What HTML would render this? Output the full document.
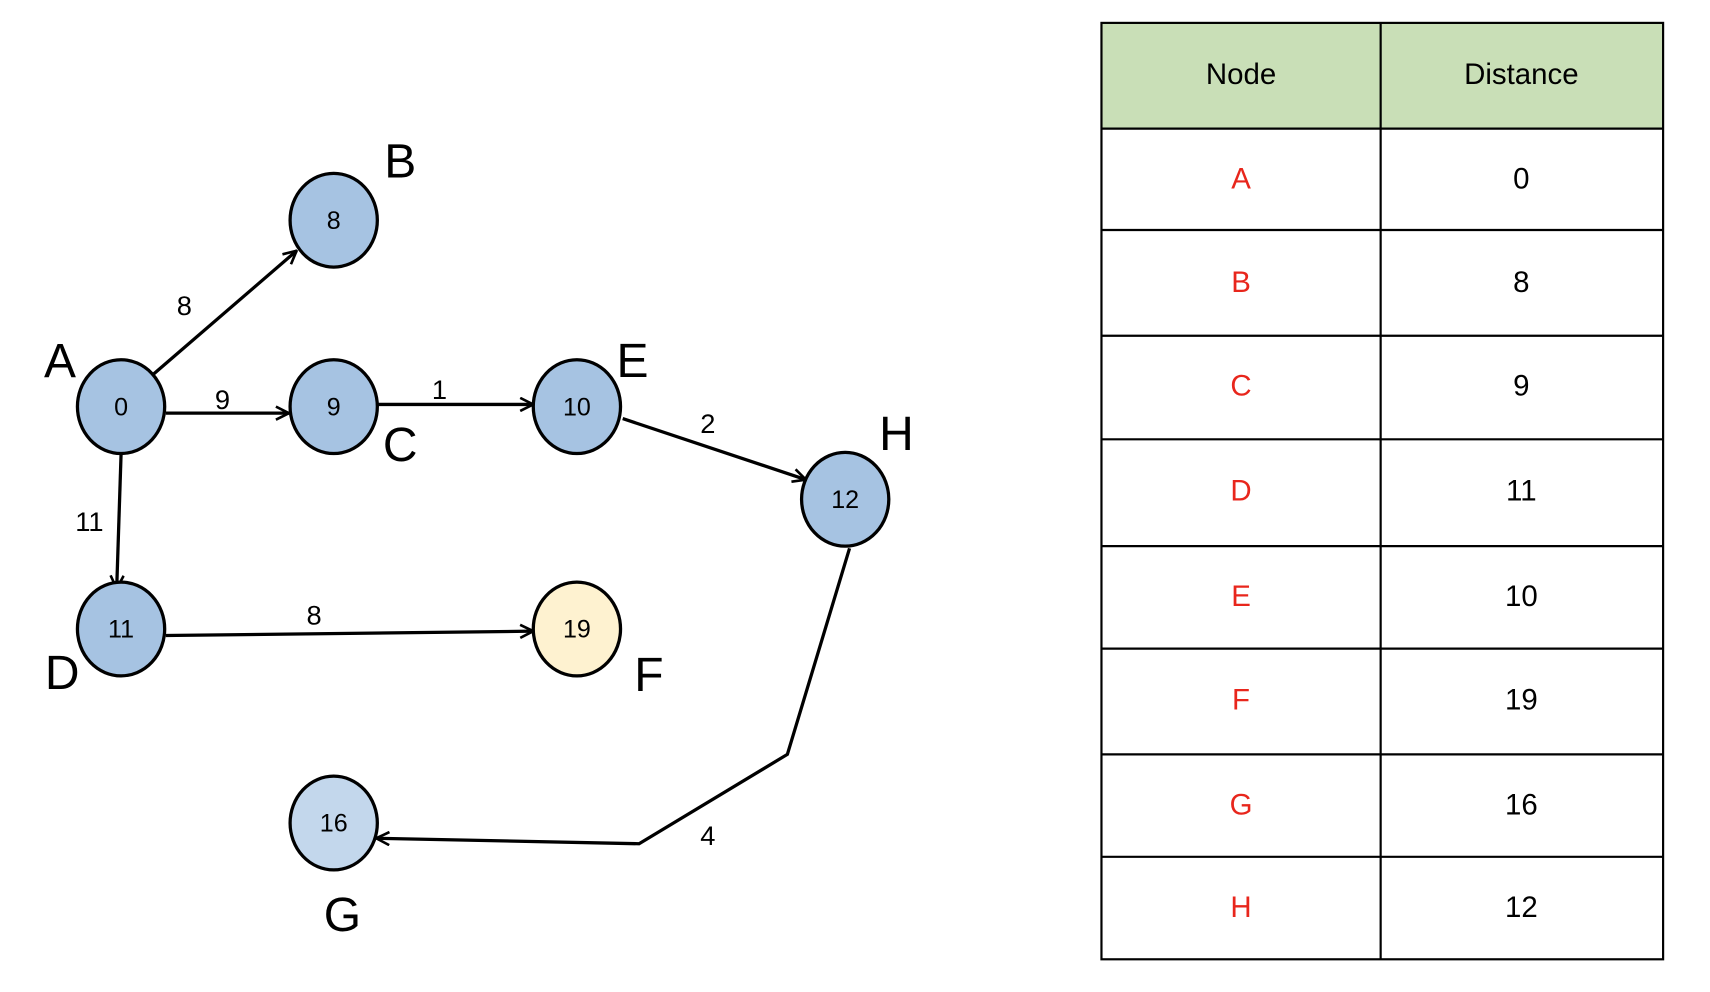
<!DOCTYPE html>
<html><head><meta charset="utf-8"><style>
html,body{margin:0;padding:0;background:#fff;width:1710px;height:992px;overflow:hidden}
svg{display:block}
text{font-family:"Liberation Sans",sans-serif}
</style></head><body>
<svg width="1710" height="992" viewBox="0 0 1568 910" preserveAspectRatio="none">
<defs><marker id="ar" viewBox="0 0 14 14" refX="13" refY="7" markerWidth="14" markerHeight="14" markerUnits="userSpaceOnUse" orient="auto"><path d="M1,1 L13,7 L1,13" fill="none" stroke="#000" stroke-width="2.4"/></marker></defs>
<g stroke="#000" stroke-width="3" fill="none">
<line x1="141" y1="343" x2="272" y2="230" marker-end="url(#ar)"/>
<line x1="152" y1="379" x2="265" y2="379" marker-end="url(#ar)"/>
<line x1="345" y1="371" x2="489" y2="371" marker-end="url(#ar)"/>
<line x1="571" y1="384" x2="739" y2="440" marker-end="url(#ar)"/>
<line x1="111" y1="417" x2="107" y2="540" marker-end="url(#ar)"/>
<line x1="152" y1="583" x2="489" y2="579" marker-end="url(#ar)"/>
<polyline points="779,503 722,692 586,774 345,769" marker-end="url(#ar)"/>
</g>
<g stroke="#000" stroke-width="3">
<ellipse cx="111" cy="373" rx="40" ry="43" fill="#a6c3e2"/>
<ellipse cx="306" cy="202" rx="40" ry="43" fill="#a6c3e2"/>
<ellipse cx="306" cy="373" rx="40" ry="43" fill="#a6c3e2"/>
<ellipse cx="529" cy="373" rx="40" ry="43" fill="#a6c3e2"/>
<ellipse cx="775" cy="458" rx="40" ry="43" fill="#a6c3e2"/>
<ellipse cx="111" cy="577" rx="40" ry="43" fill="#a6c3e2"/>
<ellipse cx="529" cy="577" rx="40" ry="43" fill="#fef2d0"/>
<ellipse cx="306" cy="755" rx="40" ry="43" fill="#c3d7ec"/>
</g>
<g font-size="23" text-anchor="middle" fill="#000">
<text x="111" y="381">0</text><text x="306" y="210">8</text><text x="306" y="381">9</text>
<text x="529" y="381">10</text><text x="775" y="466">12</text><text x="111" y="585">11</text>
<text x="529" y="585">19</text><text x="306" y="763">16</text>
</g>
<g font-size="25" text-anchor="middle">
<text x="169" y="289">8</text><text x="204" y="375">9</text><text x="403" y="366">1</text>
<text x="649" y="397">2</text><text x="82" y="487">11</text><text x="288" y="573">8</text><text x="649" y="775">4</text>
</g>
<g font-size="44" text-anchor="middle">
<text x="55" y="346">A</text><text x="367" y="163">B</text><text x="367" y="423">C</text>
<text x="580" y="346">E</text><text x="822" y="413">H</text><text x="57" y="632">D</text>
<text x="595" y="634">F</text><text x="314" y="854">G</text>
</g>
<rect x="1010" y="21" width="515" height="97" fill="#c9dfb7"/>
<g stroke="#000" stroke-width="2" fill="none">
<rect x="1010" y="21" width="515" height="859"/>
<line x1="1266" y1="21" x2="1266" y2="880"/>
<line x1="1010" y1="118" x2="1525" y2="118"/><line x1="1010" y1="211" x2="1525" y2="211"/>
<line x1="1010" y1="308" x2="1525" y2="308"/><line x1="1010" y1="403" x2="1525" y2="403"/>
<line x1="1010" y1="501" x2="1525" y2="501"/><line x1="1010" y1="595" x2="1525" y2="595"/>
<line x1="1010" y1="692" x2="1525" y2="692"/><line x1="1010" y1="786" x2="1525" y2="786"/>
</g>
<g font-size="27" text-anchor="middle">
<text x="1138" y="77">Node</text><text x="1395" y="77">Distance</text>
</g>
<g font-size="27" text-anchor="middle" fill="#e8261c">
<text x="1138" y="173">A</text><text x="1138" y="268">B</text><text x="1138" y="363">C</text><text x="1138" y="459">D</text>
<text x="1138" y="556">E</text><text x="1138" y="651">F</text><text x="1138" y="747">G</text><text x="1138" y="841">H</text>
</g>
<g font-size="27" text-anchor="middle">
<text x="1395" y="173">0</text><text x="1395" y="268">8</text><text x="1395" y="363">9</text><text x="1395" y="459">11</text>
<text x="1395" y="556">10</text><text x="1395" y="651">19</text><text x="1395" y="747">16</text><text x="1395" y="841">12</text>
</g>
</svg>
</body></html>
